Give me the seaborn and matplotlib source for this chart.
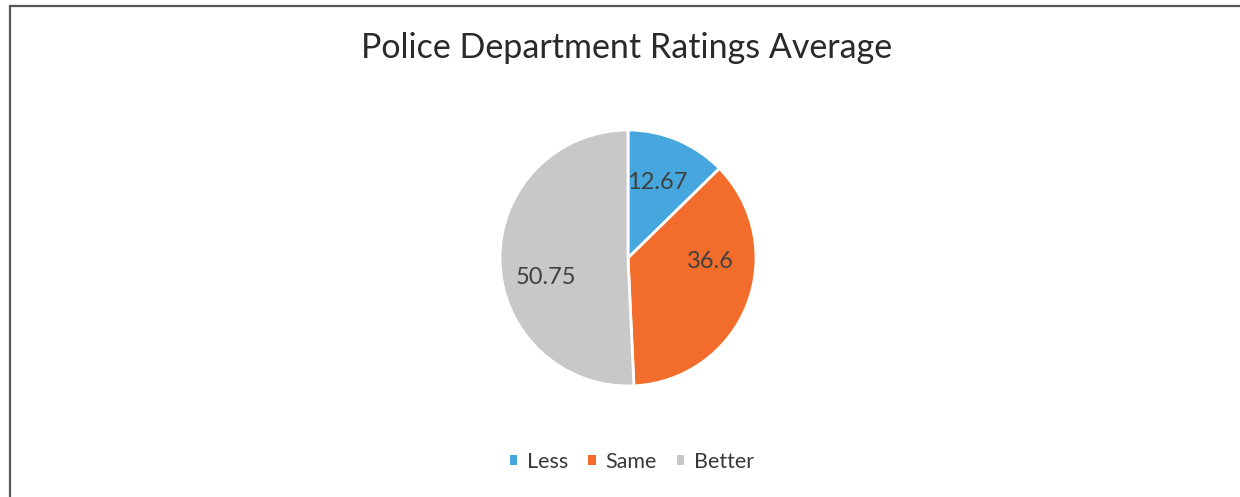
import matplotlib
matplotlib.use("Agg")
import matplotlib.pyplot as plt
import seaborn as sns
import numpy as np
from matplotlib.lines import Line2D
from matplotlib.patches import Patch

# Data
categories = ["Less", "Same", "Better"]
values = [12.67, 36.6, 50.75]
value_labels = ["12.67", "36.6", "50.75"]
colors = ["#45a7de", "#f26d2b", "#c8c8c8"]
title = "Police Department Ratings Average"

sns.set_theme(style="white")
plt.rcParams["font.family"] = ["Lato", "DejaVu Sans"]

W, H = 1240, 497
fig = plt.figure(figsize=(W / 100, H / 100), dpi=100)
fig.patch.set_facecolor("white")

# pie axes: centre (628, 258) px, radius 128 px
cx, cy, r = 628, 258, 128
ax = fig.add_axes([(cx - r) / W, (H - cy - r) / H, 2 * r / W, 2 * r / H])
wedges, texts = ax.pie(values, colors=colors, startangle=90, counterclock=False,
                       labels=value_labels, labeldistance=0.65,
                       wedgeprops=dict(edgecolor="white", linewidth=2),
                       textprops=dict(fontsize=17, color="#404040"))
ax.set_xlim(-1, 1)
ax.set_ylim(-1, 1)
ax.set_aspect("equal")
ax.axis("off")

# label placement as in the reference (Excel best fit)
label_pos = [(0.227, 0.586), (0.641, -0.031), (-0.641, -0.156)]
for t, (x, y) in zip(texts, label_pos):
    t.set_position((x, y))
    t.set_ha("center")
    t.set_va("center")

fig.text(627 / W, 1 - 48 / H, title, ha="center", va="center",
         fontsize=24.5, color="#2a2a2a")

handles = [Patch(facecolor=c, edgecolor="none") for c in colors]
fig.legend(handles, categories, loc="center", bbox_to_anchor=(632 / W, 1 - 462 / H),
           ncol=3, frameon=False, fontsize=15.5, handlelength=0.33, handleheight=0.33,
           handletextpad=0.45, columnspacing=0.95, labelcolor="#383838")

# chart border (top and left visible)
fig.add_artist(Line2D([10 / W, 10 / W], [-0.05, 1 - 6 / H], transform=fig.transFigure,
                      color="#555555", linewidth=1.6))
fig.add_artist(Line2D([10 / W, 1.05], [1 - 6 / H, 1 - 6 / H], transform=fig.transFigure,
                      color="#555555", linewidth=1.6))

fig.savefig("out.png", dpi=100, facecolor="white")
